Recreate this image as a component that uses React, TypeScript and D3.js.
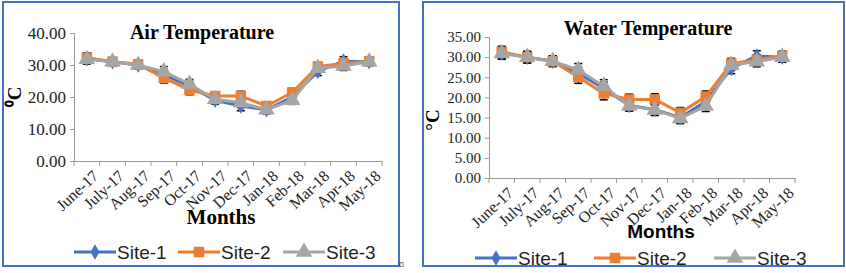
import React, { useEffect, useRef } from "react";
import * as d3 from "d3";

const months = ["June-17", "July-17", "Aug-17", "Sep-17", "Oct-17", "Nov-17", "Dec-17", "Jan-18", "Feb-18", "Mar-18", "Apr-18", "May-18"];
const sites = ["Site-1", "Site-2", "Site-3"];
const colors = ["#4472C4", "#ED7D31", "#A5A5A5"];

// air temperature (°C)
const airSite1 = [32, 31, 30, 27, 23.4, 19, 17.2, 16, 20, 28, 31.2, 31];
const airSite2 = [32.3, 31, 30.2, 26, 22.2, 20.3, 20.3, 17.2, 21.4, 29.5, 30.5, 31.2];
const airSite3 = [31.8, 31, 30, 27.9, 24, 19.3, 18.2, 16, 19, 29, 29.7, 31];
const airErr = [1.5, 1.3, 1.3, 1.6, 1.5, 1.2, 1.5, 1.2, 1.3, 1.3, 1.4, 1.2];

// water temperature (°C)
const waterSite1 = [31, 30, 29, 26, 22.2, 18, 17, 15, 19, 27.2, 30.3, 30];
const waterSite2 = [31.3, 30, 29, 25.1, 21, 19.5, 19.5, 16.2, 20.2, 28.4, 29.3, 30.3];
const waterSite3 = [30.9, 30, 29, 26.8, 22.8, 17.9, 16.9, 14.8, 17.9, 28, 28.9, 30];
const waterErr = [1.4, 1.4, 1.3, 1.6, 1.6, 1.3, 1.4, 1.3, 1.4, 1.3, 1.3, 1.2];

const serif = "'Liberation Serif', 'Times New Roman', serif";
const sans = "'Liberation Sans', Arial, sans-serif";

type Panel = {
  box: number[];
  xr: number[];
  yr: number[];
  ymax: number;
  step: number;
  tickSize: number;
  title: string;
  titleX: number;
  titleY: number;
  yTitle: string;
  yTitleX: number;
  yTitleY: number;
  xTitleFont: string;
  xTitleSize: number;
  xTitleX: number;
  xTitleY: number;
  legendY: number;
  legendX: number[];
  series: number[][];
  err: number[];
};

const drawMarkers = (g: any, k: number, pts: number[][]) => {
  const sym = k === 0 ? d3.symbolDiamond : k === 1 ? d3.symbolSquare : d3.symbolTriangle;
  const size = k === 0 ? 70 : k === 1 ? 110 : 120;
  g.selectAll(null).data(pts).enter().append("path")
    .attr("transform", (d: number[]) => `translate(${d[0]},${d[1]})`)
    .attr("d", d3.symbol().type(sym).size(size)())
    .attr("fill", colors[k]);
};

const drawPanel = (svg: any, p: Panel) => {
  const g = svg.append("g");
  g.append("rect")
    .attr("x", p.box[0]).attr("y", p.box[1])
    .attr("width", p.box[2]).attr("height", p.box[3])
    .attr("fill", "white").attr("stroke", "#4472C4").attr("stroke-width", 2);

  const x = d3.scaleBand().domain(months).range([p.xr[0], p.xr[1]]);
  const y = d3.scaleLinear().domain([0, p.ymax]).range([p.yr[0], p.yr[1]]);
  const cx = (m: string) => (x(m) as number) + x.bandwidth() / 2;

  // y axis
  const ya = g.append("g").attr("transform", `translate(${p.xr[0]},0)`)
    .call(d3.axisLeft(y).tickValues(d3.range(0, p.ymax + 0.01, p.step)).tickFormat(d3.format(".2f")).tickSize(4));
  ya.select(".domain").attr("stroke", "#999");
  ya.selectAll("line").attr("stroke", "#999");
  ya.selectAll("text").attr("font-family", serif).attr("font-size", p.tickSize).attr("fill", "#222").attr("x", -8);

  // x axis
  const xa = g.append("g").attr("transform", `translate(0,${p.yr[0]})`)
    .call(d3.axisBottom(x).tickSize(0).tickFormat(() => ""));
  xa.select(".domain").attr("stroke", "#999");
  g.selectAll(".xt").data(d3.range(months.length + 1)).enter().append("line")
    .attr("x1", (i: number) => p.xr[0] + i * x.bandwidth())
    .attr("x2", (i: number) => p.xr[0] + i * x.bandwidth())
    .attr("y1", p.yr[0]).attr("y2", p.yr[0] + 5).attr("stroke", "#999");
  g.selectAll(".xl").data(months).enter().append("text")
    .attr("transform", (m: string) => `translate(${cx(m) + 5},${p.yr[0] + 8}) rotate(-43)`)
    .attr("text-anchor", "end").attr("dy", "0.7em")
    .attr("font-family", serif).attr("font-size", 16).attr("fill", "#222")
    .text((m: string) => m);

  // error bars first, lines on top
  p.series.forEach((s) => {
    s.forEach((v, i) => {
      const xx = cx(months[i]);
      g.append("line").attr("x1", xx).attr("x2", xx).attr("y1", y(v - p.err[i])).attr("y2", y(v + p.err[i]))
        .attr("stroke", "#000").attr("stroke-width", 1);
      [v - p.err[i], v + p.err[i]].forEach((e) => {
        g.append("line").attr("x1", xx - 4).attr("x2", xx + 4).attr("y1", y(e)).attr("y2", y(e))
          .attr("stroke", "#000").attr("stroke-width", 1.5);
      });
    });
  });
  const line = d3.line<number>().x((d, i) => cx(months[i])).y((d) => y(d));
  p.series.forEach((s, k) => {
    g.append("path").datum(s).attr("d", line).attr("fill", "none")
      .attr("stroke", colors[k]).attr("stroke-width", 3).attr("stroke-linejoin", "round");
    drawMarkers(g, k, s.map((v, i) => [cx(months[i]), y(v)]));
  });

  // titles
  g.append("text").attr("x", p.titleX).attr("y", p.titleY).attr("text-anchor", "middle")
    .attr("font-family", serif).attr("font-weight", "bold").attr("font-size", 20).text(p.title);
  g.append("text").attr("transform", `translate(${p.yTitleX},${p.yTitleY}) rotate(-90)`)
    .attr("text-anchor", "middle").attr("font-family", serif).attr("font-weight", "bold")
    .attr("font-size", 19).text(p.yTitle);
  g.append("text").attr("x", p.xTitleX).attr("y", p.xTitleY).attr("text-anchor", "middle")
    .attr("font-family", p.xTitleFont).attr("font-weight", "bold").attr("font-size", p.xTitleSize).text("Months");

  // legend
  sites.forEach((s, k) => {
    const lx = p.legendX[k];
    g.append("line").attr("x1", lx).attr("x2", lx + 42).attr("y1", p.legendY).attr("y2", p.legendY)
      .attr("stroke", colors[k]).attr("stroke-width", 3);
    drawMarkers(g, k, [[lx + 21, p.legendY]]);
    g.append("text").attr("x", lx + 43).attr("y", p.legendY).attr("dy", "0.36em")
      .attr("font-family", sans).attr("font-size", 19).attr("fill", "#222").text(s);
  });
};

const App = () => {
  const ref = useRef<SVGSVGElement>(null);

  useEffect(() => {
    const svg = d3.select(ref.current);
    svg.selectAll("*").remove();

    drawPanel(svg, {
      box: [3, 2, 396, 264],
      xr: [74, 382], yr: [161, 33], ymax: 40, step: 10, tickSize: 17,
      title: "Air Temperature", titleX: 202, titleY: 39,
      yTitle: "⁰C", yTitleX: 21, yTitleY: 97,
      xTitleFont: serif, xTitleSize: 21, xTitleX: 221, xTitleY: 224,
      legendY: 252, legendX: [74, 178, 283],
      series: [airSite1, airSite2, airSite3], err: airErr,
    });
    svg.append("text").attr("x", 399).attr("y", 268).attr("font-family", serif).attr("font-size", 10).text("¤");

    drawPanel(svg, {
      box: [423, 2, 421, 264],
      xr: [489, 795], yr: [178, 37], ymax: 35, step: 5, tickSize: 15,
      title: "Water Temperature", titleX: 648, titleY: 35,
      yTitle: "°C", yTitleX: 439, yTitleY: 120,
      xTitleFont: sans, xTitleSize: 19, xTitleX: 661, xTitleY: 238,
      legendY: 258, legendX: [475, 594, 714],
      series: [waterSite1, waterSite2, waterSite3], err: waterErr,
    });
  }, []);

  return (
    <svg ref={ref} width={846} height={273} style={{ position: "absolute", left: 0, top: 0, background: "white" }} />
  );
};

export default App;
